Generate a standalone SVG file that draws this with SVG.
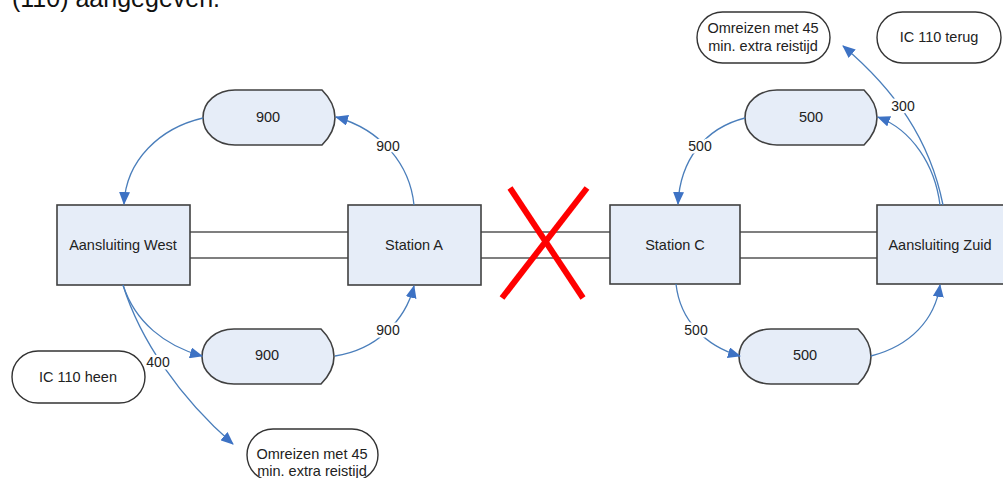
<svg xmlns="http://www.w3.org/2000/svg" width="1003" height="478" viewBox="0 0 1003 478">
<style>
text{font-family:"Liberation Sans",Arial,sans-serif;fill:#222}
.n{font-size:14.5px;text-anchor:middle}
.box{fill:#e6edf8;stroke:#404040;stroke-width:1.6}
.pill{fill:#fff;stroke:#333;stroke-width:1.4}
.trk{stroke:#555;stroke-width:1.6}
.c{fill:none;stroke:#4a7ebb;stroke-width:1.3;marker-end:url(#ah)}
.lbl{font-size:14px;text-anchor:middle;paint-order:stroke;stroke:#fff;stroke-width:5px;stroke-linejoin:round}
</style>
<defs>
<marker id="ah" markerUnits="userSpaceOnUse" markerWidth="13" markerHeight="11" viewBox="0 0 13 11" refX="12" refY="5.5" orient="auto">
<path d="M0,0 L13,5.5 L0,11 Z" fill="#3d72c4"/>
</marker>
<path id="disp" d="M32,0 H119 C127,8 132,18 132,27.5 C132,37 127,47 119,55 H32 C14,55 0,43 0,27.5 C0,12 14,0 32,0 Z"/>
</defs>
<rect width="1003" height="478" fill="#fff"/>
<text x="12" y="7" style="font-size:25px;fill:#111">(110) aangegeven.</text>

<g id="tracks">
<line class="trk" x1="190" y1="232" x2="348" y2="232"/>
<line class="trk" x1="190" y1="258" x2="348" y2="258"/>
<line class="trk" x1="481" y1="232" x2="610" y2="232"/>
<line class="trk" x1="481" y1="258" x2="610" y2="258"/>
<line class="trk" x1="740" y1="232" x2="877" y2="232"/>
<line class="trk" x1="740" y1="258" x2="877" y2="258"/>
</g>

<g id="aansluiting-west"><rect class="box" x="57" y="205" width="133" height="80"/><text class="n" x="123" y="250">Aansluiting West</text></g>
<g id="station-a"><rect class="box" x="348" y="205" width="133" height="80"/><text class="n" x="414" y="250">Station A</text></g>
<g id="station-c"><rect class="box" x="610" y="205" width="130" height="79"/><text class="n" x="675" y="250">Station C</text></g>
<g id="aansluiting-zuid"><rect class="box" x="877" y="205" width="140" height="79"/><text class="n" x="940" y="250">Aansluiting Zuid</text></g>

<g id="d900-top"><use href="#disp" class="box" x="203" y="90"/><text class="n" x="268" y="122">900</text></g>
<g id="d900-bottom"><use href="#disp" class="box" x="202" y="329"/><text class="n" x="267" y="360">900</text></g>
<g id="d500-top"><use href="#disp" class="box" x="745" y="90"/><text class="n" x="811" y="122">500</text></g>
<g id="d500-bottom"><use href="#disp" class="box" x="739" y="329"/><text class="n" x="805" y="360">500</text></g>

<g id="omreizen-top"><rect class="pill" x="697" y="12" width="133" height="51" rx="25.5"/><text class="n" x="763" y="33">Omreizen met 45</text><text class="n" x="763" y="51">min. extra reistijd</text></g>
<g id="ic110-terug"><rect class="pill" x="877" y="12" width="124" height="51" rx="25.5"/><text class="n" x="939" y="42">IC 110 terug</text></g>
<g id="ic110-heen"><rect class="pill" x="12" y="351" width="133" height="52" rx="26"/><text class="n" x="78" y="382">IC 110 heen</text></g>
<g id="omreizen-bottom"><rect class="pill" x="247" y="429" width="131" height="52" rx="26"/><text class="n" x="312" y="459">Omreizen met 45</text><text class="n" x="312" y="476">min. extra reistijd</text></g>

<g id="connectors">
<path class="c" d="M203,118 C160,128 126,160 124,204"/>
<path class="c" d="M414,205 C410,165 382,130 336,117"/>
<path class="c" d="M123,285 C135,322 165,346 202,356"/>
<path class="c" d="M123,285 C140,340 180,398 233,444"/>
<path class="c" d="M335,356 C375,350 405,322 414,286"/>
<path class="c" d="M676,284 C680,320 705,346 740,356"/>
<path class="c" d="M871,356 C910,346 935,320 940,285"/>
<path class="c" d="M940,205 C935,165 912,130 878,117"/>
<path class="c" d="M745,118 C705,128 680,160 678,204"/>
<path class="c" d="M943,205 C930,140 895,90 843,46"/>
<text class="lbl" x="388" y="151">900</text>
<text class="lbl" x="388" y="335">900</text>
<text class="lbl" x="158" y="367">400</text>
<text class="lbl" x="700" y="151">500</text>
<text class="lbl" x="696" y="335">500</text>
<text class="lbl" x="903" y="111">300</text>
</g>

<g id="blocked">
<line x1="510" y1="188" x2="583" y2="298" stroke="#ff0000" stroke-width="6"/>
<line x1="587" y1="188" x2="502" y2="298" stroke="#ff0000" stroke-width="6"/>
</g>
</svg>
